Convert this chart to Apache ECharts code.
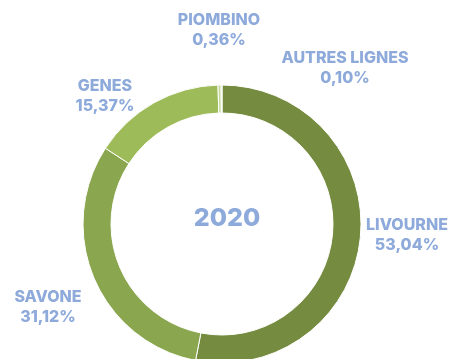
<!DOCTYPE html>
<html>
<head>
<meta charset="utf-8">
<script src="https://cdn.jsdelivr.net/npm/echarts@6/dist/echarts.min.js"></script>
<style>
  html, body { margin: 0; padding: 0; background: #ffffff; }
  #chart { width: 452px; height: 359px; }
</style>
</head>
<body>
<div id="chart"></div>
<script>
// Traffic share by line, 2020
const categories = ['LIVOURNE', 'SAVONE', 'GENES', 'PIOMBINO', 'AUTRES LIGNES'];
const shares = [53.04, 31.12, 15.37, 0.36, 0.10];
const sliceColors = ['#758c40', '#8aa64e', '#9dbb58', '#c4d79c', '#d8e4bd'];
const yearLabel = '2020';

// Label anchor points (x, y of the label block centre)
const labelAnchors = [[407, 235], [48, 307], [105, 96], [219, 30], [345, 68]];

const labelColor = '#8eaadb';
const fontFamily = 'Inter, sans-serif';

const chart = echarts.init(document.getElementById('chart'));
chart.setOption({
  animation: false,
  backgroundColor: '#ffffff',
  title: {
    text: yearLabel,
    left: 222,
    top: 213,
    textAlign: 'center',
    textVerticalAlign: 'middle',
    textStyle: { color: labelColor, fontSize: 25, fontWeight: 800, fontFamily: fontFamily }
  },
  series: [{
    type: 'pie',
    center: [222, 224],
    radius: [111, 139],
    startAngle: 90,
    clockwise: true,
    avoidLabelOverlap: false,
    itemStyle: { borderColor: '#ffffff', borderWidth: 1 },
    label: {
      show: true,
      position: 'outside',
      color: labelColor,
      fontSize: 16,
      fontWeight: 800,
      fontFamily: fontFamily,
      lineHeight: 20,
      align: 'center',
      formatter: p => p.name + '\n' + p.value.toFixed(2).replace('.', ',') + '%'
    },
    labelLine: { show: false },
    labelLayout: p => ({
      x: labelAnchors[p.dataIndex][0],
      y: labelAnchors[p.dataIndex][1],
      align: 'center',
      verticalAlign: 'middle'
    }),
    data: categories.map((name, i) => ({
      name: name,
      value: shares[i],
      itemStyle: { color: sliceColors[i] }
    }))
  }]
});
</script>
</body>
</html>
